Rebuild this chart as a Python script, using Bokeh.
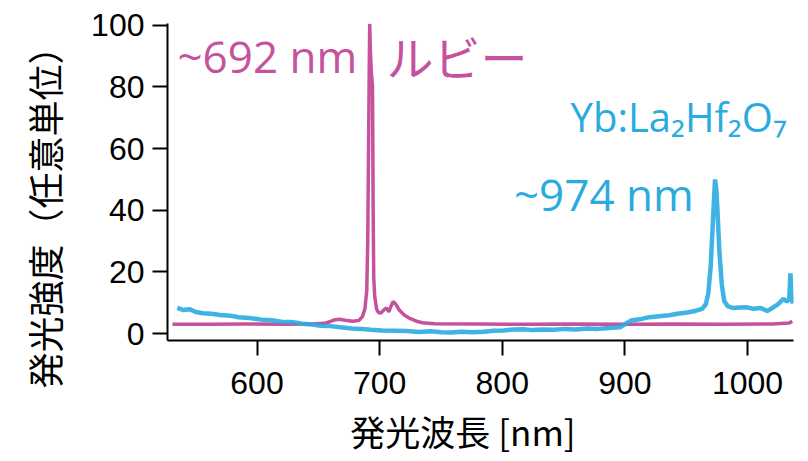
from bokeh.plotting import figure
from bokeh.models import Range1d, Label, FixedTicker, Title
from bokeh.embed import file_html
from bokeh.resources import INLINE

# ---- data ----
ruby_nm = [531, 560, 590, 620, 645, 655, 660, 663, 667, 672, 678, 683, 686, 688, 689.5,
           690.3, 690.9, 691.5, 691.9, 692.4, 693.2, 694.2, 694.7, 695.2, 696, 697.5, 699, 701, 703, 705.5,
           707.5, 709, 711, 713, 716, 720, 725, 730, 735, 745, 780, 820, 860, 900, 940,
           980, 1020, 1034, 1036.5]
ruby_int = [3.0, 3.0, 3.1, 3.0, 3.1, 3.3, 3.9, 4.4, 4.6, 4.3, 4.0, 4.2, 5.5, 8, 14,
            30, 58, 85, 100.5, 92, 85, 80, 40, 18, 12, 8, 6.8, 6.6, 7.5, 8.3,
            7.0, 8.6, 10.4, 9.6, 7.6, 6.0, 4.8, 4.0, 3.5, 3.2, 3.1, 3.0, 3.1, 3.0, 3.1,
            3.0, 3.1, 3.4, 4.0]

yb_nm = [535, 540, 545, 550, 556, 563, 570, 578, 585, 594, 604, 612, 620, 628, 637,
         645, 652, 660, 668, 677, 685, 693, 702, 712, 722, 732, 742, 750, 758, 767,
         776, 785, 793, 801, 809, 817, 825, 833, 842, 851, 860, 869, 878, 887, 896,
         900, 905, 912, 920, 928, 936, 944, 951, 958, 963, 966, 968, 970, 972, 973.5,
         974.5, 975.5, 977, 979, 981, 984, 988, 993, 999, 1005, 1011, 1016, 1020, 1025, 1029,
         1032, 1034, 1035, 1036, 1037]
yb_int = [8.3, 7.6, 7.9, 7.0, 6.6, 6.4, 6.0, 5.8, 5.3, 5.0, 4.5, 4.3, 3.8, 3.7, 3.2,
          2.9, 2.5, 2.4, 2.0, 1.6, 1.5, 1.2, 1.0, 0.9, 0.8, 0.5, 0.7, 0.4, 0.3, 0.6,
          0.4, 0.6, 0.9, 1.0, 1.3, 1.4, 1.1, 1.3, 1.2, 1.5, 1.3, 1.6, 1.5, 1.8, 2.0,
          3.0, 4.2, 4.6, 5.3, 5.6, 5.9, 6.5, 6.8, 7.4, 8.0, 9.5, 13, 22, 38, 50,
          47, 40, 27, 16, 10.5, 8.8, 8.3, 8.4, 8.5, 8.0, 8.3, 7.3, 8.2, 9.5, 11.2,
          10.4, 11.0, 19.5, 11.5, 9.7]

x_ticks = [600, 700, 800, 900, 1000]
y_ticks = [0, 20, 40, 60, 80, 100]

MAGENTA = "#c6519c"
CYAN = "#2aabe0"

p = figure(width=808, height=461, output_backend="svg", toolbar_location=None,
           x_range=Range1d(527, 1037.5), y_range=Range1d(-2.27, 100.6),
           min_border_left=165, min_border_right=15, min_border_top=23, min_border_bottom=121)
p.outline_line_color = None
p.xgrid.visible = False
p.ygrid.visible = False
p.background_fill_color = "white"
p.border_fill_color = "white"

p.line(ruby_nm, ruby_int, line_color=MAGENTA, line_width=3.5)
p.line(yb_nm, yb_int, line_color=CYAN, line_width=4.5, line_alpha=0.9)

for ax, ticks in ((p.xaxis[0], x_ticks), (p.yaxis[0], y_ticks)):
    ax.ticker = FixedTicker(ticks=ticks)
    ax.axis_line_width = 2
    ax.axis_line_color = "black"
    ax.major_tick_line_width = 2
    ax.major_tick_line_color = "black"
    ax.major_tick_out = 15
    ax.major_tick_in = 0
    ax.minor_tick_line_color = None
    ax.major_label_text_font = "Liberation Sans"
    ax.major_label_text_font_size = "32px"
    ax.major_label_text_color = "black"
    ax.axis_label_text_font = "Noto Sans CJK JP"
    ax.axis_label_text_font_style = "normal"
    ax.axis_label_text_color = "black"
p.xaxis.major_label_standoff = 16
p.yaxis.major_label_standoff = 8

# y title as a side-panel title so it can sit lower than the frame centre, like the reference
ytitle = Title(text="発光強度（任意単位）", align="left", offset=-48, vertical_align="top",
               text_font="Noto Sans CJK JP", text_font_size="36px", text_font_style="normal",
               text_color="black", standoff=34)
p.add_layout(ytitle, "left")

p.xaxis.axis_label = "発光波長 [nm]\u3000"
p.xaxis.axis_label_text_font_size = "35px"
p.xaxis.axis_label_standoff = 8

# annotations
p.add_layout(Label(x=535.1, y=90.2, text="~692 nm", text_color=MAGENTA, text_font="Open Sans",
                   text_font_size="44px", text_baseline="alphabetic", text_align="left"))
p.add_layout(Label(x=705.6, y=90.2, text="ルビー", text_color=MAGENTA, text_font="Noto Sans CJK JP",
                   text_font_size="47px", text_baseline="middle", text_align="left"))
p.add_layout(Label(x=855.7, y=70.4, text="Yb:La₂Hf₂O₇", text_color=CYAN, text_font="Open Sans",
                   text_font_size="40px", text_baseline="alphabetic", text_align="left"))
p.add_layout(Label(x=809.5, y=45.4, text="~974 nm", text_color=CYAN, text_font="Open Sans",
                   text_font_size="44px", text_baseline="alphabetic", text_align="left"))

open("out.html", "w").write(file_html(p, INLINE))
